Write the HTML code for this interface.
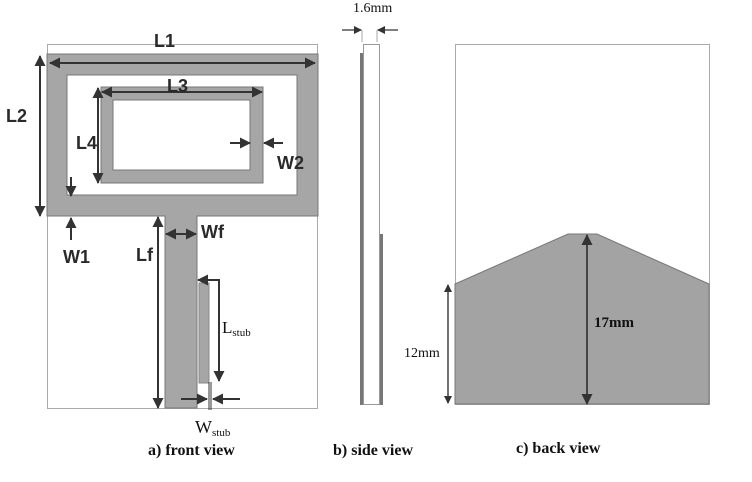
<!DOCTYPE html>
<html><head><meta charset="utf-8"><style>
body{margin:0;background:#fff}
svg{display:block}
.s{font-family:"Liberation Sans",sans-serif;font-size:18px;fill:#2a2a2a;font-weight:bold}
.t{font-family:"Liberation Serif",serif;fill:#111}
</style></head><body>
<svg width="752" height="482" viewBox="0 0 752 482">
<defs>
<marker id="a" markerWidth="8" markerHeight="8" refX="7" refY="4" orient="auto-start-reverse" markerUnits="userSpaceOnUse"><path d="M0,0 L8,4 L0,8z" fill="#333"/></marker>
<marker id="b" markerWidth="11" markerHeight="11" refX="10" refY="5.5" orient="auto-start-reverse" markerUnits="userSpaceOnUse"><path d="M0,0 L11,5.5 L0,11z" fill="#333"/></marker>
</defs>
<rect x="47.5" y="44.5" width="270" height="364" fill="#fff" stroke="#aaa"/>
<path d="M47,54 H318 V216 H197 V408 H165 V216 H47 Z M67,75 V195 H297 V75 Z" fill="#a6a6a6" fill-rule="evenodd" stroke="#777" stroke-width="1"/>
<path d="M101,87 H263 V183 H101 Z M113,100 V170 H250 V100 Z" fill="#a6a6a6" fill-rule="evenodd" stroke="#777"/>
<rect x="199" y="283" width="10" height="100" fill="#a6a6a6" stroke="#888"/>
<g stroke="#333" stroke-width="2" fill="none">
<line x1="50" y1="63" x2="315" y2="63" marker-start="url(#b)" marker-end="url(#b)"/>
<line x1="40" y1="56" x2="40" y2="216" marker-start="url(#b)" marker-end="url(#b)"/>
<line x1="102" y1="92" x2="262" y2="92" marker-start="url(#b)" marker-end="url(#b)"/>
<line x1="98" y1="88" x2="98" y2="183" marker-start="url(#b)" marker-end="url(#b)"/>
<line x1="230" y1="143" x2="250" y2="143" marker-end="url(#b)"/>
<line x1="283" y1="143" x2="264" y2="143" marker-end="url(#b)"/>
<line x1="71" y1="177" x2="71" y2="196" marker-end="url(#b)"/>
<line x1="71" y1="240" x2="71" y2="218" marker-end="url(#b)"/>
<line x1="158" y1="217" x2="158" y2="408" marker-start="url(#b)" marker-end="url(#b)"/>
<line x1="166" y1="234" x2="196" y2="234" marker-start="url(#b)" marker-end="url(#b)"/>
<polyline points="198,280 219,280 219,381" marker-start="url(#b)" marker-end="url(#b)"/>
<line x1="181" y1="399" x2="207" y2="399" marker-end="url(#b)"/>
<line x1="240" y1="399" x2="213" y2="399" marker-end="url(#b)"/>
</g>
<line x1="209" y1="382" x2="209" y2="410" stroke="#333"/>
<line x1="211" y1="382" x2="211" y2="410" stroke="#333"/>
<text class="s" x="154" y="47">L1</text>
<text class="s" x="6" y="122">L2</text>
<text class="s" x="167" y="92">L3</text>
<text class="s" x="76" y="149">L4</text>
<text class="s" x="277" y="169">W2</text>
<text class="s" x="63" y="263">W1</text>
<text class="s" x="136" y="261">Lf</text>
<text class="s" x="201" y="238">Wf</text>
<text class="t" x="222" y="333" font-size="17">L<tspan font-size="11" dy="3">stub</tspan></text>
<text class="t" x="195" y="433" font-size="18">W<tspan font-size="11" dy="3">stub</tspan></text>
<rect x="363.5" y="44.5" width="16" height="360" fill="#fff" stroke="#999"/>
<rect x="360" y="53" width="3" height="352" fill="#777"/>
<rect x="380" y="234" width="3" height="171" fill="#777"/>
<line x1="362" y1="30" x2="362" y2="42" stroke="#aaa"/>
<line x1="377" y1="30" x2="377" y2="42" stroke="#aaa"/>
<line x1="342" y1="30" x2="361" y2="30" stroke="#555" stroke-width="1.5" marker-end="url(#a)"/>
<line x1="398" y1="30" x2="378" y2="30" stroke="#555" stroke-width="1.5" marker-end="url(#a)"/>
<text class="t" x="353" y="12" font-size="14" fill="#333">1.6mm</text>
<rect x="455.5" y="44.5" width="254" height="360" fill="#fff" stroke="#aaa"/>
<path d="M455,284 L568,234 L597,234 L709,284 V404 H455 Z" fill="#a3a3a3" stroke="#777"/>
<g stroke="#444" stroke-width="1.5">
<line x1="448" y1="285" x2="448" y2="403" marker-start="url(#a)" marker-end="url(#a)"/>
<line x1="587" y1="235" x2="587" y2="404" stroke-width="2" marker-start="url(#b)" marker-end="url(#b)"/>
</g>
<text class="t" x="594" y="327" font-size="15" font-weight="bold" fill="#444">17mm</text>
<text class="t" x="404" y="357" font-size="14" fill="#333">12mm</text>
<text class="t" x="148" y="455" font-size="16" font-weight="bold">a) front view</text>
<text class="t" x="333" y="455" font-size="16" font-weight="bold">b) side view</text>
<text class="t" x="516" y="453" font-size="16" font-weight="bold">c) back view</text>
</svg>
</body></html>
